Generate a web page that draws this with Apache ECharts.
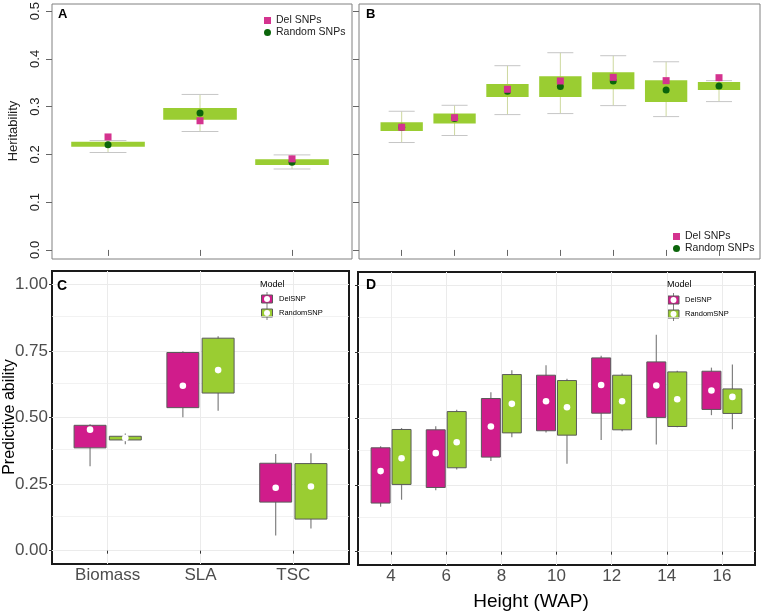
<!DOCTYPE html>
<html>
<head>
<meta charset="UTF-8" />
<script src="https://cdn.jsdelivr.net/npm/echarts@6/dist/echarts.min.js"></script>
</head>
<body style="margin:0">
<div id="main" style="width:762px;height:614px"></div>
<script type="text/javascript">
// categories
var traits = ['Biomass', 'SLA', 'TSC'];
var heights = [4, 6, 8, 10, 12, 14, 16];

// A: heritability per trait
var aBoxLow = [0.216, 0.2726, 0.178];
var aBoxHigh = [0.2267, 0.297, 0.190];
var aCapLow = [0.204, 0.248, 0.1695];
var aCapHigh = [0.229, 0.3256, 0.199];
var aDel = [0.2366, 0.2705, 0.1907];
var aRandom = [0.220, 0.2867, 0.1836];

// B: heritability per height
var bBoxLow = [0.2493, 0.2646, 0.3203, 0.3203, 0.3364, 0.310, 0.335];
var bBoxHigh = [0.2674, 0.2855, 0.3475, 0.3635, 0.3719, 0.3552, 0.3517];
var bCapLow = [0.2249, 0.2396, 0.2834, 0.2855, 0.3022, 0.2792, 0.3106];
var bCapHigh = [0.2904, 0.3029, 0.3858, 0.413, 0.4067, 0.394, 0.3545];
var bDel = [0.257, 0.277, 0.3364, 0.3538, 0.3614, 0.3545, 0.3607];
var bRandom = [0.257, 0.275, 0.3322, 0.342, 0.3538, 0.335, 0.3433];

// C: predictive ability per trait
var cDelLow = [0.317, 0.5006, 0.0574];
var cDelQ1 = [0.386, 0.537, 0.1823];
var cDelQ3 = [0.4707, 0.744, 0.3283];
var cDelHigh = [0.4744, 0.749, 0.3633];
var cDelMean = [0.4544, 0.619, 0.236];
var cRanLow = [0.40, 0.5256, 0.0836];
var cRanQ1 = [0.4157, 0.5918, 0.1186];
var cRanQ3 = [0.4295, 0.7978, 0.327];
var cRanHigh = [0.44, 0.805, 0.3658];
var cRanMean = [0.4232, 0.678, 0.241];

// D: predictive ability per height
var dDelLow = [0.169, 0.231, 0.34, 0.4475, 0.419, 0.4025, 0.5125];
var dDelQ1 = [0.1825, 0.241, 0.355, 0.454, 0.52, 0.504, 0.534];
var dDelQ3 = [0.39, 0.4575, 0.575, 0.6625, 0.7275, 0.7125, 0.6775];
var dDelHigh = [0.396, 0.471, 0.599, 0.70, 0.736, 0.814, 0.691];
var dDelMean = [0.3025, 0.37, 0.47, 0.565, 0.626, 0.624, 0.605];
var dRanLow = [0.195, 0.309, 0.43, 0.33, 0.4525, 0.4675, 0.46];
var dRanQ1 = [0.2525, 0.315, 0.446, 0.4375, 0.4575, 0.47, 0.519];
var dRanQ3 = [0.4588, 0.526, 0.665, 0.6425, 0.6625, 0.675, 0.611];
var dRanHigh = [0.464, 0.5325, 0.681, 0.649, 0.669, 0.679, 0.7025];
var dRanMean = [0.351, 0.411, 0.555, 0.5425, 0.565, 0.5725, 0.581];

var herTicks = [0, 0.1, 0.2, 0.3, 0.4, 0.5];
var paTicks = [0, 0.25, 0.5, 0.75, 1];
var paMinor = [0.125, 0.375, 0.625, 0.875];

var FONT = 'Liberation Sans, Arial, Helvetica, sans-serif';
var PINK = '#d4338f', DKGREEN = '#0b650b', LGREEN = '#9acd32', MAGENTA = '#d01c8b';

var chart = echarts.init(document.getElementById('main'));

function idx(arr) { return arr.map(function (v, i) { return i + 1; }); }

function herData(lo, hi, cl, ch) {
    return lo.map(function (v, i) { return [i + 1, v, hi[i], cl[i], ch[i]]; });
}
function pts(arr) {
    return arr.map(function (v, i) { return [i + 1, v]; });
}
function boxData(low, q1, q3, high, mean) {
    return low.map(function (v, i) { return [i + 1, v, q1[i], q3[i], high[i], mean[i]]; });
}

// box + whisker for heritability panels
function herBox(capHalf) {
    return function (params, api) {
        var x = api.value(0);
        var lo = api.coord([x, api.value(1)]);
        var hi = api.coord([x, api.value(2)]);
        var cl = api.coord([x, api.value(3)]);
        var ch = api.coord([x, api.value(4)]);
        var bw = api.size([0.4, 0])[0];
        var cw = api.size([capHalf, 0])[0];
        return {
            type: 'group',
            children: [
                { type: 'line', shape: { x1: cl[0], y1: cl[1], x2: ch[0], y2: ch[1] }, style: { stroke: '#cdd89e', lineWidth: 1 } },
                { type: 'line', shape: { x1: cl[0] - cw, y1: cl[1], x2: cl[0] + cw, y2: cl[1] }, style: { stroke: '#c6c6c6', lineWidth: 1 } },
                { type: 'line', shape: { x1: ch[0] - cw, y1: ch[1], x2: ch[0] + cw, y2: ch[1] }, style: { stroke: '#c6c6c6', lineWidth: 1 } },
                { type: 'rect', shape: { x: lo[0] - bw, y: hi[1], width: 2 * bw, height: lo[1] - hi[1] }, style: { fill: LGREEN } }
            ]
        };
    };
}

// ggplot-like boxplot with mean dot, dodged by offset
function paBox(offset, fill) {
    return function (params, api) {
        var x = api.value(0) + offset;
        var low = api.coord([x, api.value(1)]);
        var q1 = api.coord([x, api.value(2)]);
        var q3 = api.coord([x, api.value(3)]);
        var high = api.coord([x, api.value(4)]);
        var mean = api.coord([x, api.value(5)]);
        var hw = api.size([0.172, 0])[0];
        return {
            type: 'group',
            children: [
                { type: 'line', shape: { x1: low[0], y1: low[1], x2: high[0], y2: high[1] }, style: { stroke: '#808080', lineWidth: 1.2 } },
                { type: 'rect', shape: { x: q1[0] - hw, y: q3[1], width: 2 * hw, height: q1[1] - q3[1] }, style: { fill: fill, stroke: '#5a5a5a', lineWidth: 1 } },
                { type: 'circle', shape: { cx: mean[0], cy: mean[1], r: 3.3 }, style: { fill: '#ffffff' } }
            ]
        };
    };
}

function herY(grid, labels) {
    return {
        gridIndex: grid, type: 'value', min: -0.019, max: 0.515,
        axisLine: { show: false },
        axisTick: { show: true, length: 6, customValues: herTicks, lineStyle: { color: '#666' } },
        axisLabel: { show: labels, customValues: herTicks, rotate: 90, margin: 10, fontSize: 13, color: '#222', fontFamily: FONT,
            formatter: function (v) { return v.toFixed(1); } },
        splitLine: { show: false }
    };
}
function herX(grid, min, max, n) {
    var t = [];
    for (var i = 1; i <= n; i++) t.push(i);
    return {
        gridIndex: grid, type: 'value', min: min, max: max,
        axisLine: { show: false },
        axisTick: { show: true, length: 6, customValues: t, lineStyle: { color: '#666' } },
        axisLabel: { show: false, customValues: t },
        splitLine: { show: false }
    };
}
function paY(grid, labels) {
    return {
        gridIndex: grid, type: 'value', min: -0.05, max: 1.05,
        axisLine: { show: false },
        axisTick: { show: true, length: 3, customValues: paTicks, lineStyle: { color: '#333' } },
        axisLabel: { show: labels, customValues: paTicks, margin: 4, fontSize: 17, color: '#4d4d4d', fontFamily: FONT,
            formatter: function (v) { return v.toFixed(2); } },
        splitLine: { show: true, lineStyle: { color: '#ebebeb', width: 1 } }
    };
}
function paX(grid, max, names) {
    var t = idx(names);
    return {
        gridIndex: grid, type: 'value', min: 0.4, max: max,
        axisLine: { show: false },
        axisTick: { show: true, length: 3, customValues: t, lineStyle: { color: '#333' } },
        axisLabel: { customValues: t, margin: 3, fontSize: 17, color: '#4d4d4d', fontFamily: FONT,
            formatter: function (v) { return String(names[Math.round(v) - 1]); } },
        splitLine: { show: true, lineStyle: { color: '#ebebeb', width: 1 } }
    };
}

var minorLines = {
    silent: true, symbol: 'none', z: 1,
    label: { show: false },
    lineStyle: { color: '#ededed', width: 0.7, type: 'solid' },
    data: paMinor.map(function (v) { return { yAxis: v }; })
};

function legendKey(cx, cy, fill) {
    return {
        type: 'group',
        children: [
            { type: 'line', shape: { x1: cx, y1: cy - 7, x2: cx, y2: cy + 7 }, style: { stroke: '#808080', lineWidth: 1 } },
            { type: 'rect', shape: { x: cx - 5.5, y: cy - 4, width: 11, height: 8 }, style: { fill: fill, stroke: '#5a5a5a', lineWidth: 1 } },
            { type: 'circle', shape: { cx: cx, cy: cy, r: 3 }, style: { fill: '#fff' } }
        ]
    };
}
function txt(s, x, y, size, opts) {
    opts = opts || {};
    return {
        type: 'text', x: x, y: y, rotation: opts.rot || 0, z: 10,
        style: { text: s, x: 0, y: 0, fill: opts.color || '#000', align: opts.align || 'left', verticalAlign: 'middle',
            font: (opts.bold ? 'bold ' : '') + size + 'px ' + FONT }
    };
}

var option = {
    animation: false,
    backgroundColor: '#ffffff',
    grid: [
        { left: 52, top: 4, width: 300, height: 255, show: true, borderColor: '#808080', borderWidth: 1, outerBoundsMode: 'none' },
        { left: 359, top: 4, width: 401, height: 255, show: true, borderColor: '#808080', borderWidth: 1, outerBoundsMode: 'none' },
        { left: 52, top: 271, width: 297, height: 293, show: true, borderColor: '#1a1a1a', borderWidth: 2, outerBoundsMode: 'none' },
        { left: 358, top: 272, width: 397, height: 293, show: true, borderColor: '#1a1a1a', borderWidth: 2, outerBoundsMode: 'none' }
    ],
    xAxis: [
        herX(0, 0.391, 3.652, traits.length),
        herX(1, 0.193, 7.775, heights.length),
        paX(2, 3.6, traits),
        paX(3, 7.6, heights)
    ],
    yAxis: [herY(0, true), herY(1, false), paY(2, true), paY(3, false)],
    legend: [
        { data: ['Del SNPs', 'Random SNPs'], orient: 'vertical', left: 259, top: 10, itemWidth: 7, itemHeight: 7, itemGap: 1,
            selectedMode: false, textStyle: { fontSize: 10.5, color: '#222', fontFamily: FONT } },
        { data: ['Del SNPs', 'Random SNPs'], orient: 'vertical', left: 668, top: 226, itemWidth: 7, itemHeight: 7, itemGap: 1,
            selectedMode: false, textStyle: { fontSize: 10.5, color: '#222', fontFamily: FONT } }
    ],
    series: [
        { type: 'custom', name: 'A box', xAxisIndex: 0, yAxisIndex: 0, renderItem: herBox(0.2), data: herData(aBoxLow, aBoxHigh, aCapLow, aCapHigh), silent: true },
        { type: 'scatter', name: 'Random SNPs', xAxisIndex: 0, yAxisIndex: 0, symbol: 'circle', symbolSize: 7, itemStyle: { color: DKGREEN, opacity: 1 }, data: pts(aRandom) },
        { type: 'scatter', name: 'Del SNPs', xAxisIndex: 0, yAxisIndex: 0, symbol: 'rect', symbolSize: 7, itemStyle: { color: PINK, opacity: 1 }, data: pts(aDel) },

        { type: 'custom', name: 'B box', xAxisIndex: 1, yAxisIndex: 1, renderItem: herBox(0.246), data: herData(bBoxLow, bBoxHigh, bCapLow, bCapHigh), silent: true },
        { type: 'scatter', name: 'Random SNPs', xAxisIndex: 1, yAxisIndex: 1, symbol: 'circle', symbolSize: 7, itemStyle: { color: DKGREEN, opacity: 1 }, data: pts(bRandom) },
        { type: 'scatter', name: 'Del SNPs', xAxisIndex: 1, yAxisIndex: 1, symbol: 'rect', symbolSize: 7, itemStyle: { color: PINK, opacity: 1 }, data: pts(bDel) },

        { type: 'custom', name: 'C DelSNP', xAxisIndex: 2, yAxisIndex: 2, renderItem: paBox(-0.19, MAGENTA), data: boxData(cDelLow, cDelQ1, cDelQ3, cDelHigh, cDelMean), markLine: minorLines },
        { type: 'custom', name: 'C RandomSNP', xAxisIndex: 2, yAxisIndex: 2, renderItem: paBox(0.19, LGREEN), data: boxData(cRanLow, cRanQ1, cRanQ3, cRanHigh, cRanMean) },
        { type: 'custom', name: 'D DelSNP', xAxisIndex: 3, yAxisIndex: 3, renderItem: paBox(-0.19, MAGENTA), data: boxData(dDelLow, dDelQ1, dDelQ3, dDelHigh, dDelMean), markLine: minorLines },
        { type: 'custom', name: 'D RandomSNP', xAxisIndex: 3, yAxisIndex: 3, renderItem: paBox(0.19, LGREEN), data: boxData(dRanLow, dRanQ1, dRanQ3, dRanHigh, dRanMean) }
    ],
    graphic: [
        txt('A', 58, 14, 13, { bold: true }),
        txt('B', 366, 14, 13, { bold: true }),
        txt('C', 57, 286, 14, { bold: true }),
        txt('D', 366, 285, 14, { bold: true }),
        txt('Heritability', 13, 131, 13, { rot: Math.PI / 2, align: 'center', color: '#222' }),
        txt('Predictive ability', 10, 417, 16, { rot: Math.PI / 2, align: 'center' }),
        txt('Height (WAP)', 531, 602, 19, { align: 'center' }),
        txt('Model', 260, 285, 9),
        legendKey(267, 299, MAGENTA),
        legendKey(267, 313, LGREEN),
        txt('DelSNP', 279, 299, 7.5),
        txt('RandomSNP', 279, 313, 7.5),
        txt('Model', 667, 285, 9),
        legendKey(673.5, 300, MAGENTA),
        legendKey(673.5, 314, LGREEN),
        txt('DelSNP', 685, 300, 7.5),
        txt('RandomSNP', 685, 314, 7.5)
    ]
};

chart.setOption(option);
</script>
</body>
</html>
